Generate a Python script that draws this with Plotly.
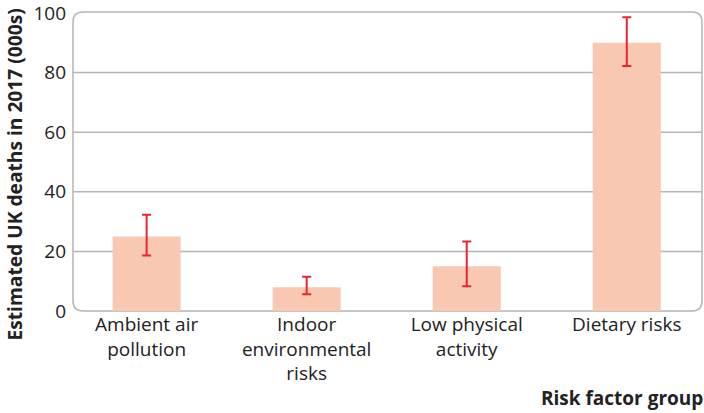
import plotly.graph_objects as go

categories = ["Ambient air<br>pollution", "Indoor<br>environmental<br>risks", "Low physical<br>activity", "Dietary risks"]
deaths = [25, 8, 15, 90]
upper = [32.3, 11.5, 23.3, 98.5]
lower = [18.6, 5.6, 8.3, 82.2]
ytick_vals = [0, 20, 40, 60, 80, 100]

err_plus = [u - v for u, v in zip(upper, deaths)]
err_minus = [v - l for v, l in zip(deaths, lower)]

FONT = "Open Sans"
TXT = "#222222"

fig = go.Figure()
fig.add_trace(go.Bar(
    x=categories, y=deaths,
    marker=dict(color="#f9c8b3", line=dict(width=0)),
    width=0.425,
    error_y=dict(type="data", array=err_plus, arrayminus=err_minus,
                 color="#e8262e", thickness=2, width=4.5, visible=True),
))

grid_color = "#b5b5b5"
shapes = []
for v in ytick_vals[1:-1]:
    shapes.append(dict(type="line", xref="paper", yref="y", x0=0, x1=1, y0=v, y1=v,
                       line=dict(color=grid_color, width=1.5), layer="below"))
# rounded frame
W, H = 629.0, 299.0
rx, ry = 10 / W, 10 / H
path = (f"M {rx},0 L {1-rx},0 Q 1,0 1,{ry} L 1,{1-ry} Q 1,1 {1-rx},1 "
        f"L {rx},1 Q 0,1 0,{1-ry} L 0,{ry} Q 0,0 {rx},0 Z")
shapes.append(dict(type="path", xref="paper", yref="paper", path=path,
                   line=dict(color=grid_color, width=1.5), layer="below"))

fig.update_layout(
    width=704, height=413,
    margin=dict(l=73, r=2, t=12, b=102, autoexpand=False),
    paper_bgcolor="white", plot_bgcolor="white",
    showlegend=False,
    shapes=shapes,
    font=dict(family=FONT, color=TXT),
    xaxis=dict(showgrid=False, showline=False, zeroline=False,
               tickfont=dict(size=19, color=TXT), ticks="",
               range=[-0.46, 3.47]),
    yaxis=dict(range=[0, 100.3], tickvals=ytick_vals, showgrid=False, zeroline=False,
               showline=False, tickfont=dict(size=19, color=TXT), ticks="",
               ticklabelstandoff=6, ticklabeloverflow="allow"),
    annotations=[
        dict(text="<b>Risk factor group</b>", xref="paper", yref="paper",
             x=1, y=0, xanchor="right", yanchor="middle", yshift=-87, xshift=3,
             showarrow=False, font=dict(size=19, color=TXT)),
        dict(text="<b>Estimated UK deaths in 2017 (000s)</b>", xref="paper", yref="paper",
             x=(14 - 73) / W, y=(311 - 174.5) / H, xanchor="center", yanchor="middle",
             textangle=-90, showarrow=False, font=dict(size=19.2, color=TXT)),
    ],
)

fig.write_html("out.html", config={"displayModeBar": False},
               post_script="document.body.style.margin='0';")
